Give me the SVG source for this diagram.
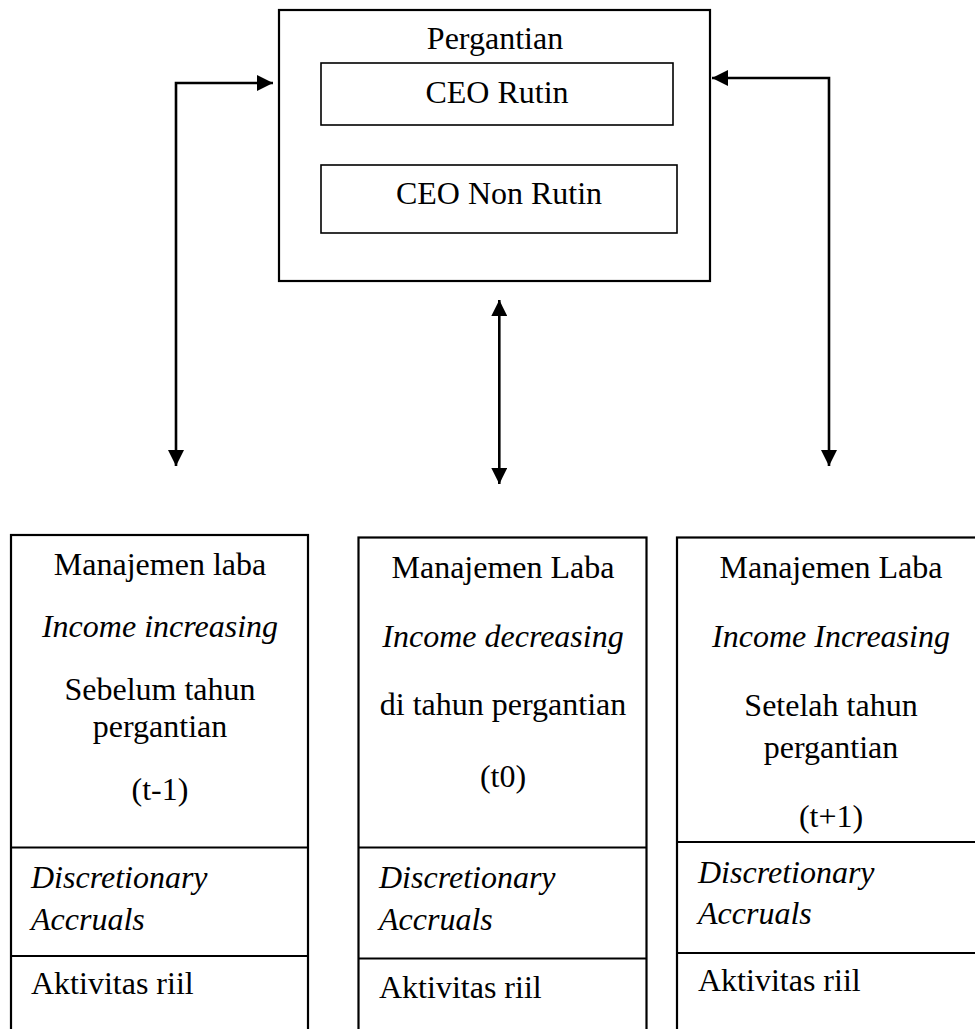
<svg xmlns="http://www.w3.org/2000/svg" width="975" height="1029" viewBox="0 0 975 1029">
<style>
text{font-family:'Liberation Serif','Times New Roman','DejaVu Serif',serif;font-size:32px;fill:#000}
.c{text-anchor:middle}
.i{font-style:italic}
.box{fill:none;stroke:#000;stroke-width:2.2}
.in{fill:none;stroke:#000;stroke-width:1.6}
.con{fill:none;stroke:#000;stroke-width:2.6}
</style>
<defs>
<marker id="ah" viewBox="0 0 16 16" refX="16" refY="8" markerWidth="16" markerHeight="16" markerUnits="userSpaceOnUse" orient="auto-start-reverse">
<path d="M0,0 L16,8 L0,16 Z" fill="#000"/>
</marker>
</defs>
<rect width="975" height="1029" fill="#fff"/>
<g font-family="Liberation Serif, Times New Roman, serif">
<g id="pergantian">
<rect class="box" x="279" y="10" width="431" height="271"/>
<text class="c" x="495" y="49">Pergantian</text>
</g>
<g id="ceo-rutin">
<rect class="in" x="321" y="63" width="352" height="62"/>
<text class="c" x="497" y="103">CEO Rutin</text>
</g>
<g id="ceo-non-rutin">
<rect class="in" x="321" y="165" width="356" height="68"/>
<text class="c" x="499" y="204">CEO Non Rutin</text>
</g>
<g id="connectors">
<path class="con" d="M176,466 L176,83 L273,83" marker-start="url(#ah)" marker-end="url(#ah)"/>
<path class="con" d="M829,466 L829,78 L712,78" marker-start="url(#ah)" marker-end="url(#ah)"/>
<path class="con" d="M499.3,300 L499.3,484" marker-start="url(#ah)" marker-end="url(#ah)"/>
</g>
<g id="col-t-1">
<rect class="box" x="11" y="535" width="297" height="500"/>
<line class="box" x1="11" y1="847.5" x2="308" y2="847.5"/>
<line class="box" x1="11" y1="956" x2="308" y2="956"/>
<text class="c" x="160" y="575">Manajemen laba</text>
<text class="c i" x="160" y="637">Income increasing</text>
<text class="c" x="160" y="700">Sebelum tahun</text>
<text class="c" x="160" y="737">pergantian</text>
<text class="c" x="160" y="800">(t-1)</text>
<text class="i" x="31" y="888">Discretionary</text>
<text class="i" x="31" y="930">Accruals</text>
<text x="31" y="994">Aktivitas riil</text>
</g>
<g id="col-t0">
<rect class="box" x="358.5" y="537.5" width="288" height="500"/>
<line class="box" x1="358.5" y1="847.5" x2="646.5" y2="847.5"/>
<line class="box" x1="358.5" y1="958.5" x2="646.5" y2="958.5"/>
<text class="c" x="503" y="578">Manajemen Laba</text>
<text class="c i" x="503" y="647">Income decreasing</text>
<text class="c" x="503" y="715">di tahun pergantian</text>
<text class="c" x="503" y="787">(t0)</text>
<text class="i" x="379" y="888">Discretionary</text>
<text class="i" x="379" y="930">Accruals</text>
<text x="379" y="998">Aktivitas riil</text>
</g>
<g id="col-t1">
<rect class="box" x="677" y="537.5" width="310" height="500"/>
<line class="box" x1="677" y1="842" x2="987" y2="842"/>
<line class="box" x1="677" y1="953" x2="987" y2="953"/>
<text class="c" x="831" y="578">Manajemen Laba</text>
<text class="c i" x="831" y="647">Income Increasing</text>
<text class="c" x="831" y="716">Setelah tahun</text>
<text class="c" x="831" y="758">pergantian</text>
<text class="c" x="831" y="827">(t+1)</text>
<text class="i" x="698" y="883">Discretionary</text>
<text class="i" x="698" y="924">Accruals</text>
<text x="698" y="991">Aktivitas riil</text>
</g>
</g>
</svg>
